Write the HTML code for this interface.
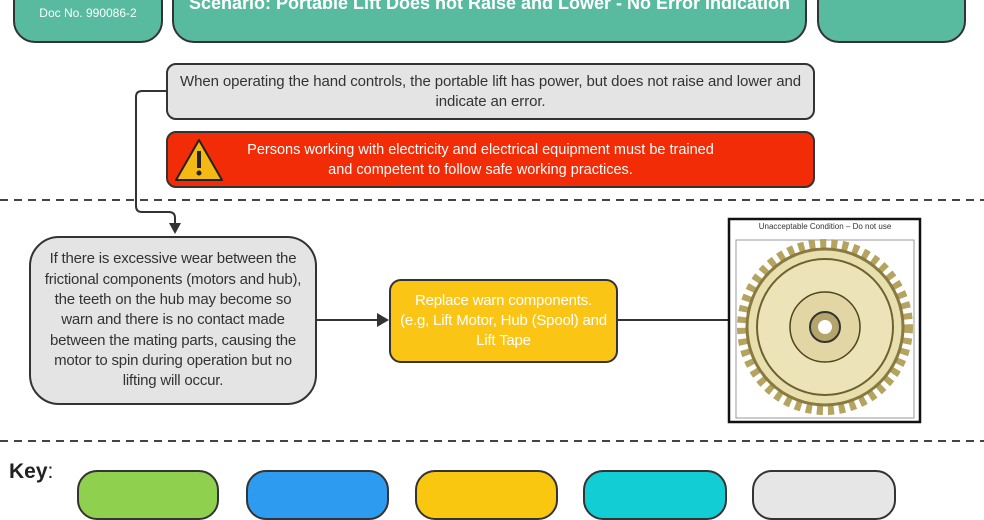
<!DOCTYPE html>
<html><head><meta charset="utf-8"><style>
body{margin:0;width:984px;height:492px;overflow:hidden;background:#fff;font-family:"Liberation Sans",sans-serif;position:relative}
.b{position:absolute;box-sizing:border-box;border:2px solid #333;display:flex;align-items:center;justify-content:center;text-align:center;white-space:nowrap}
</style></head><body>
<div class="b" style="left:13px;top:-20px;width:150px;height:63px;background:#58bb9f;border-radius:22px;color:#fff;font-size:12px;align-items:flex-start;padding-top:24px">Doc No. 990086-2</div>
<div class="b" style="left:172px;top:-20px;width:635px;height:63px;background:#58bb9f;border-radius:22px;color:#fff;font-size:18px;font-weight:bold;align-items:flex-start;padding-top:11px">Scenario: Portable Lift Does not Raise and Lower - No Error Indication</div>
<div class="b" style="left:817px;top:-20px;width:149px;height:63px;background:#58bb9f;border-radius:22px"></div>
<div class="b" style="left:166px;top:63px;width:649px;height:57px;background:#e4e4e4;border-radius:10px;font-size:15px;color:#333;line-height:20px;letter-spacing:-0.1px">When operating the hand controls, the portable lift has power, but does not raise and lower and<br>indicate an error.</div>
<div class="b" style="left:166px;top:131px;width:649px;height:57px;background:#f22c06;border-radius:10px;font-size:14.5px;color:#fff;line-height:20px;padding-right:20px">Persons working with electricity and electrical equipment must be trained<br>and competent to follow safe working practices.</div>
<svg style="position:absolute;left:0;top:0" width="984" height="492">
<polygon points="199,140 176,180 222,180" fill="#f5b914" stroke="#222" stroke-width="2" stroke-linejoin="round"/>
<rect x="197" y="151" width="4" height="17" fill="#222"/><circle cx="199" cy="173" r="2.5" fill="#222"/>
<line x1="0" y1="200" x2="984" y2="200" stroke="#444" stroke-width="2" stroke-dasharray="8,6"/>
<line x1="0" y1="441" x2="984" y2="441" stroke="#444" stroke-width="2" stroke-dasharray="8,6"/>
<path d="M166 91 H142 Q136 91 136 97 V206 Q136 212 142 212 H169 Q175 212 175 218 V224" fill="none" stroke="#333" stroke-width="2"/>
<polygon points="169,223 181,223 175,234" fill="#333"/>
<line x1="316" y1="320" x2="378" y2="320" stroke="#333" stroke-width="2"/>
<polygon points="377,313 377,327 389,320" fill="#333"/>
<line x1="617" y1="320" x2="728" y2="320" stroke="#333" stroke-width="2"/>
<rect x="729" y="219" width="191" height="203" fill="#fff" stroke="#111" stroke-width="2.5"/>
<rect x="736" y="240" width="178" height="178" fill="#fff" stroke="#999" stroke-width="1"/>
<circle cx="825" cy="327" r="82" fill="none" stroke="#b5a460" stroke-width="12" stroke-dasharray="6,4.9"/>
<circle cx="825" cy="327" r="78" fill="#e8dfae" stroke="#8a7a40" stroke-width="3"/>
<circle cx="825" cy="327" r="68" fill="#ece4b8" stroke="#6e6130" stroke-width="2"/>
<circle cx="825" cy="327" r="35" fill="#e2d7a4" stroke="#4e4420" stroke-width="1.5"/>
<circle cx="825" cy="327" r="15" fill="#b4a56a" stroke="#333" stroke-width="2"/>
<circle cx="825" cy="327" r="7" fill="#fff"/>
<text x="825" y="229" font-size="8" text-anchor="middle" fill="#333" font-family="Liberation Sans">Unacceptable Condition – Do not use</text>
</svg>
<div class="b" style="left:29px;top:236px;width:288px;height:169px;background:#e4e4e4;border-radius:30px;font-size:15px;color:#333;line-height:20.3px;letter-spacing:-0.2px">If there is excessive wear between the<br>frictional components (motors and hub),<br>the teeth on the hub may become so<br>warn and there is no contact made<br>between the mating parts, causing the<br>motor to spin during operation but no<br>lifting will occur.</div>
<div class="b" style="left:389px;top:279px;width:229px;height:84px;background:#fbc515;border-radius:12px;font-size:15px;color:#fff;line-height:20px;letter-spacing:-0.2px">Replace warn components.<br>(e.g, Lift Motor, Hub (Spool) and<br>Lift Tape</div>
<div style="position:absolute;left:9px;top:460px;font-size:21px;font-weight:bold;color:#222">Key<span style="font-weight:normal">:</span></div>
<div class="b" style="left:77px;top:470px;width:142px;height:50px;background:#8fd14f;border-radius:20px"></div>
<div class="b" style="left:246px;top:470px;width:143px;height:50px;background:#2d9bf0;border-radius:20px"></div>
<div class="b" style="left:415px;top:470px;width:143px;height:50px;background:#fac710;border-radius:20px"></div>
<div class="b" style="left:583px;top:470px;width:144px;height:50px;background:#12cdd4;border-radius:20px"></div>
<div class="b" style="left:752px;top:470px;width:144px;height:50px;background:#e6e6e6;border-radius:20px"></div>
</body></html>
